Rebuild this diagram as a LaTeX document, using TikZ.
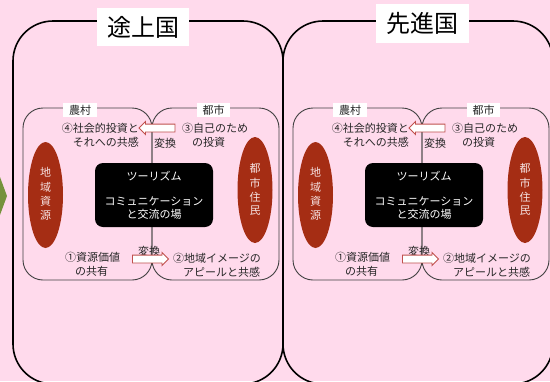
\documentclass[tikz,border=0pt]{standalone}
\usepackage{fontspec}
\setmainfont{Noto Sans CJK JP}
\usetikzlibrary{shapes.geometric,shapes.arrows}
\definecolor{bgpink}{RGB}{255,218,236}
\definecolor{ovalred}{RGB}{165,45,20}
\definecolor{arrowred}{RGB}{192,80,77}
\definecolor{olivegreen}{RGB}{118,146,60}
\definecolor{textgray}{RGB}{38,38,38}
\definecolor{innergray}{RGB}{64,64,64}
\definecolor{ovaltext}{RGB}{245,225,225}
\begin{document}
\begin{tikzpicture}[x=1pt,y=-1pt,
  outerbox/.style={draw=black,line width=1.6pt,rounded corners=40pt},
  innerbox/.style={draw=innergray,line width=0.9pt,rounded corners=20pt},
  title/.style={fill=white,font=\fontsize{24}{28}\selectfont,text=black,inner sep=0pt},
  tag/.style={fill=white,font=\fontsize{11}{13}\selectfont,text=textgray,inner sep=0pt,minimum height=14pt},
  lbl/.style={font=\fontsize{11}{14}\selectfont,text=textgray,inner sep=0pt},
  resource/.style={ellipse,fill=ovalred,minimum width=35pt,minimum height=106pt,inner sep=0pt},
  ovalchar/.style={text=ovaltext,inner sep=0pt,font=\fontsize{11}{13}\selectfont},
  hub/.style={fill=black,rounded corners=8pt,text=white,minimum width=118pt,minimum height=64pt,align=center,font=\fontsize{11}{13}\selectfont,inner sep=0pt},
  blockarrow/.style={single arrow,draw=arrowred,fill=white,line width=0.9pt,inner xsep=0pt,inner ysep=3.5pt,minimum height=36pt,single arrow head extend=2.5pt,single arrow head indent=0pt}
]
\useasboundingbox (0,0) rectangle (550,381);
\fill[bgpink] (0,0) rectangle (550,381);
\clip (0,0) rectangle (550,381);
\fill[olivegreen] (0,177) -- (7,196) -- (0,215) -- cycle;
\draw[outerbox] (13,21) rectangle (283,384);
\draw[outerbox] (283,21) rectangle (553,384);
\node[title,minimum width=92pt,minimum height=38pt] (devtitle) at (143,27) {途上国};
\node[title,minimum width=93pt,minimum height=39pt] (advtitle) at (422.5,23.5) {先進国};
\foreach \s/\dx in {L/0,R/270}{
 \begin{scope}[xshift=\dx pt]
  \draw[innerbox] (23,108) rectangle (152,280);
  \draw[innerbox] (152,108) rectangle (279,280);
  \node[tag,minimum width=34pt] (rural\s) at (80,110) {農村};
  \node[tag,minimum width=33pt] (city\s) at (213.5,110) {都市};
  \node[resource] (res\s) at (45.5,195) {};
  \foreach \c/\y [count=\i] in {地/172,域/187,資/201,源/215}
    \node[ovalchar] (res\s\i) at (45.5,\y) {\c};
  \node[resource] (cit\s) at (255,190) {};
  \foreach \c/\y [count=\i] in {都/168,市/183,住/197,民/211}
    \node[ovalchar] (cit\s\i) at (255,\y) {\c};
  \node[hub] (hub\s) at (154,195) {ツーリズム\\[12pt]コミュニケーション\\と交流の場};
  \node[lbl,align=right,anchor=east] (four\s) at (139,135) {④社会的投資と\\それへの共感};
  \node[lbl,align=left,anchor=west] (three\s) at (182,135) {③自己のため\\\hspace*{0.9em}の投資};
  \node[lbl] (xa\s) at (165,143) {変換};
  \node[lbl,align=left,anchor=west] (one\s) at (65,264) {①資源価値\\\hspace*{0.9em}の共有};
  \node[lbl,align=left,anchor=west] (two\s) at (173,265.5) {②地域イメージの\\\hspace*{0.9em}アピールと共感};
  \node[lbl] (xb\s) at (149,251) {変換};
  \node[blockarrow,shape border rotate=180] (up\s) at (159,128) {};
  \node[blockarrow] (dn\s) at (148.5,259) {};
 \end{scope}
}
\end{tikzpicture}
\end{document}
